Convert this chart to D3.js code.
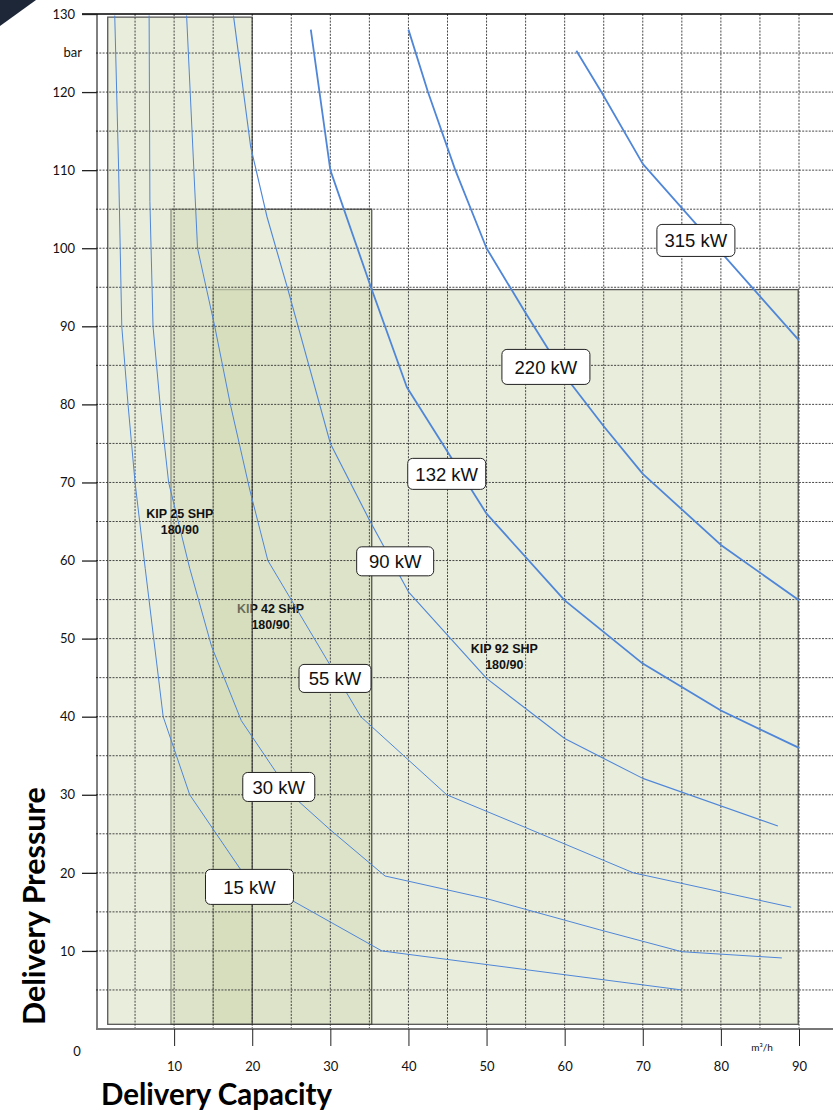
<!DOCTYPE html>
<html>
<head>
<meta charset="utf-8">
<script src="https://cdn.jsdelivr.net/npm/d3@7"></script>
<style>
  html, body { margin: 0; padding: 0; background: #fff; }
  svg { display: block; }
</style>
</head>
<body>
<div id="chart"></div>
<script>
// ---------------- DATA ----------------
const xTicks = [10, 20, 30, 40, 50, 60, 70, 80, 90];
const yTicks = [10, 20, 30, 40, 50, 60, 70, 80, 90, 100, 110, 120, 130];
const yUnitLabel = "bar";
const xUnitLabel = "m³/h";
const xTitle = "Delivery Capacity";
const yTitle = "Delivery Pressure";

// Machine operating ranges [x0, x1, y0, y1] (m³/h, bar)
const kip25Range = [1.5, 20, 0.6, 129.6];
const kip42Range = [9.6, 35.3, 0.6, 105];
const kip92Range = [15, 89.9, 0.6, 94.7];

const kipNames = ["KIP 25 SHP", "KIP 42 SHP", "KIP 92 SHP"];
const kipSub = ["180/90", "180/90", "180/90"];
const kipLabelPos = [[10.73, 65.5], [22.34, 53.3], [52.27, 48.2]];

// Power curves (flow m³/h, pressure bar)
const curve15 = [[2.4,129.8],[2.9,110],[3.3,90],[4.1,80],[5,70],[6.3,59],[8.6,40],[12,30],[18.8,20],[36.6,10],[75,5]];
const curve30 = [[6.8,129.8],[6.9,106],[7.3,90],[8.3,79],[9.3,70],[12,59],[14.8,49],[18.6,39.5],[25,30],[30,25.5],[37,19.6],[50,16.7],[64.5,12.7],[75,9.9],[87.8,9.1]];
const curve55 = [[11.6,129.8],[13,100],[15.2,90],[17.2,80],[19.7,69],[22,60],[33.9,40],[44.9,30],[55,25.8],[68.8,20],[89,15.6]];
const curve90 = [[17.6,129.8],[19.8,113],[21.9,104],[24.6,94.6],[27.2,85.2],[30,75],[35,65.2],[40,56],[50,44.9],[60,37.2],[70,32.1],[87.3,26]];
const curve132 = [[27.5,128],[30,110],[35.2,95],[39.8,82.2],[50,66],[60,54.9],[70,46.8],[80,40.8],[90,36]];
const curve220 = [[40,128],[42.5,120],[46,110],[50,100],[55,91.7],[60,83.7],[65,77.2],[70,71.1],[80,62],[90,54.9]];
const curve315 = [[61.5,125.3],[64.7,120],[70,110.8],[90,88.2]];

const powerNames = ["15 kW", "30 kW", "55 kW", "90 kW", "132 kW", "220 kW", "315 kW"];
const powerLabelPos = [[19.65, 18.2], [23.4, 31], [30.6, 44.9], [38.3, 59.9], [44.9, 71.1], [57.6, 84.8], [76.8, 101]];

// ---------------- STYLE ----------------
const W = 833, H = 1110;
const curveWidths = [1, 1, 1, 1.1, 1.8, 1.8, 1.8];
const labelBox = [[88, 35], [72, 29], [72, 28], [77, 29], [78, 31], [88, 35], [78, 32]];
const curveColor = "#4f86d8";

const svg = d3.select("#chart").append("svg")
  .attr("width", W).attr("height", H);

const x = d3.scaleLinear().domain([0, 90]).range([96, 799]);
const y = d3.scaleLinear().domain([0, 130]).range([1029, 14]);

// decorative corner
svg.append("path").attr("d", "M0,0 L36,0 L0,26 Z").attr("fill", "#1d2738");

// ---------------- RANGE BOXES ----------------
const boxG = svg.append("g");
function drawBox(r) {
  boxG.append("rect")
    .attr("x", x(r[0])).attr("y", y(r[3]))
    .attr("width", x(r[1]) - x(r[0])).attr("height", y(r[2]) - y(r[3]))
    .attr("fill", "rgb(207,215,178)").attr("fill-opacity", 0.455)
    .attr("stroke", "#3c3c3c").attr("stroke-width", 1.3).attr("stroke-opacity", 0.85);
}
function drawKip(g, i) {
  const t = g.append("text")
    .attr("x", x(kipLabelPos[i][0])).attr("y", y(kipLabelPos[i][1]))
    .attr("text-anchor", "middle")
    .attr("font-family", "Liberation Sans, Arial, sans-serif")
    .attr("font-weight", "bold").attr("font-size", 12.5).attr("fill", "#111");
  t.append("tspan").attr("x", x(kipLabelPos[i][0])).text(kipNames[i]);
  t.append("tspan").attr("x", x(kipLabelPos[i][0])).attr("dy", 16).text(kipSub[i]);
}
drawBox(kip92Range);
drawBox(kip42Range);
drawKip(boxG, 1);
drawBox(kip25Range);

// ---------------- GRID ----------------
const gridG = svg.append("g")
  .attr("stroke", "#333").attr("stroke-width", 0.9)
  .attr("stroke-dasharray", "2,1.3").attr("fill", "none");
const vGrid = d3.range(5, 91, 5);
const hGrid = d3.range(5, 126, 5);
gridG.selectAll("line.v").data(vGrid).join("line")
  .attr("x1", d => x(d)).attr("x2", d => x(d))
  .attr("y1", y(130)).attr("y2", y(0));
gridG.selectAll("line.h").data(hGrid).join("line")
  .attr("x1", x(0)).attr("x2", W)
  .attr("y1", d => y(d)).attr("y2", d => y(d));

// ---------------- CURVES ----------------
const curves = [curve15, curve30, curve55, curve90, curve132, curve220, curve315];
const line = d3.line().x(d => x(d[0])).y(d => y(d[1]));
svg.append("g").selectAll("path").data(curves).join("path")
  .attr("d", line)
  .attr("fill", "none")
  .attr("stroke", curveColor)
  .attr("stroke-width", (d, i) => curveWidths[i])
  .attr("stroke-linejoin", "round");

// ---------------- AXES ----------------
const axG = svg.append("g");
axG.append("line").attr("x1", 82).attr("x2", W).attr("y1", y(130)).attr("y2", y(130))
  .attr("stroke", "#000").attr("stroke-width", 1.3);
axG.append("line").attr("x1", x(0) + 1).attr("x2", x(0) + 1).attr("y1", y(130)).attr("y2", y(0))
  .attr("stroke", "#000").attr("stroke-width", 1);
axG.append("line").attr("x1", x(0)).attr("x2", W).attr("y1", y(0)).attr("y2", y(0))
  .attr("stroke", "#777").attr("stroke-width", 2);

const yAxis = d3.axisLeft(y).tickValues(yTicks).tickSize(15).tickPadding(7);
const yAxG = svg.append("g").attr("transform", `translate(${x(0) + 1},0)`).call(yAxis);
yAxG.select(".domain").remove();
yAxG.selectAll(".tick line").attr("stroke", "#222").attr("stroke-width", 1.3);
yAxG.selectAll(".tick text").attr("font-family", "Lato, sans-serif").attr("font-size", 13).attr("fill", "#111");

const xAxis = d3.axisBottom(x).tickValues(xTicks).tickSize(17).tickPadding(16);
const xAxG = svg.append("g").attr("transform", `translate(0,${y(0)})`).call(xAxis);
xAxG.select(".domain").remove();
xAxG.selectAll(".tick line").attr("stroke", "#222").attr("stroke-width", 1);
xAxG.selectAll(".tick text").attr("font-family", "Lato, sans-serif").attr("font-size", 13).attr("fill", "#111");

// unit labels
svg.append("text").attr("x", 82).attr("y", y(125)).attr("dy", "0.32em")
  .attr("text-anchor", "end").attr("font-family", "Lato, sans-serif").attr("font-size", 13)
  .attr("fill", "#111").text(yUnitLabel);
svg.append("text").attr("x", 77).attr("y", y(0) + 23).attr("dy", "0.32em")
  .attr("text-anchor", "middle").attr("font-family", "Lato, sans-serif").attr("font-size", 13)
  .attr("fill", "#111").text("0");
svg.append("text").attr("x", 762).attr("y", y(0) + 19).attr("dy", "0.32em")
  .attr("text-anchor", "middle").attr("font-family", "Lato, sans-serif").attr("font-size", 10)
  .attr("fill", "#111").text(xUnitLabel);

// titles
svg.append("text").attr("x", 101).attr("y", 1105)
  .attr("font-family", "Lato, sans-serif").attr("font-weight", "bold").attr("font-size", 29.5)
  .attr("fill", "#000").text(xTitle);
svg.append("text").attr("transform", "translate(45,1025) rotate(-90)")
  .attr("font-family", "Lato, sans-serif").attr("font-weight", "bold").attr("font-size", 30.5)
  .attr("fill", "#000").text(yTitle);

// ---------------- KIP LABELS (25 & 92) ----------------
const topG = svg.append("g");
drawKip(topG, 0);
drawKip(topG, 2);

// ---------------- POWER LABELS ----------------
const lg = svg.append("g").selectAll("g").data(powerNames).join("g")
  .attr("transform", (d, i) => `translate(${x(powerLabelPos[i][0])},${y(powerLabelPos[i][1])})`);
lg.append("rect")
  .attr("x", (d, i) => -labelBox[i][0] / 2).attr("y", (d, i) => -labelBox[i][1] / 2)
  .attr("width", (d, i) => labelBox[i][0]).attr("height", (d, i) => labelBox[i][1])
  .attr("rx", 5).attr("ry", 5)
  .attr("fill", "#fff").attr("stroke", "#222").attr("stroke-width", 1);
lg.append("text")
  .attr("text-anchor", "middle").attr("dy", "0.36em")
  .attr("font-family", "Liberation Sans, Arial, sans-serif").attr("font-size", 18.5)
  .attr("fill", "#111").text(d => d);
</script>
</body>
</html>
